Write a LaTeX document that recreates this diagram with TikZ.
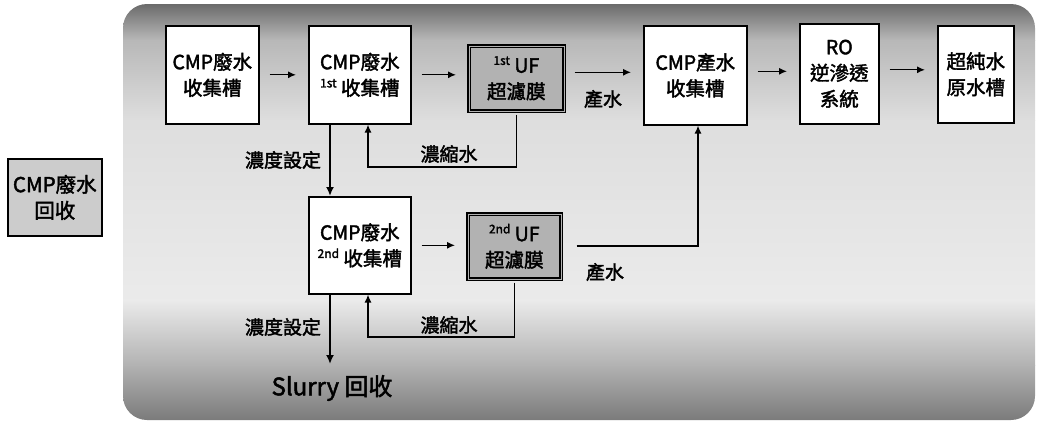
\documentclass[tikz,border=0pt]{standalone}
\usepackage{fontspec}
\setmainfont{Noto Sans CJK TC}[FakeBold=2]
\usetikzlibrary{arrows.meta}
\tikzset{
  box/.style={draw=black, line width=1.6pt, fill=white, inner sep=0pt, align=center, anchor=north west, font=\fontsize{19.5}{26}\selectfont},
  ufbox/.style={box, fill=black!30, double=black!30, double distance=0.6pt},
  lbl/.style={inner sep=0pt, font=\fontsize{19}{22}\selectfont},
  arr/.style={line width=1.3pt, -{Latex[length=8pt,width=7pt]}},
  harr/.style={arr, shorten <=10pt, shorten >=12pt},
  darr/.style={line width=2.6pt, -{Latex[length=9pt,width=8pt]}},
}
\newcommand{\sups}[1]{\raisebox{0.4em}{\fontsize{12}{12}\selectfont #1}}
\begin{document}
\begin{tikzpicture}[x=1pt,y=-1pt]
\useasboundingbox (0,0) rectangle (1040,424);
% panel
\begin{scope}
\clip[rounded corners=24pt] (123,4) rectangle (1035,420);
\shade[top color=black!58, bottom color=black!28] (123,4) rectangle (1035,40);
\shade[top color=black!28, bottom color=black!13] (123,40) rectangle (1035,120);
\shade[top color=black!13, bottom color=black!8] (123,120) rectangle (1035,300);
\shade[top color=black!8, bottom color=black!30] (123,300) rectangle (1035,365);
\shade[top color=black!30, bottom color=black!52] (123,365) rectangle (1035,420.5);
\end{scope}
% left box
\node[box, fill=black!20, minimum width=94pt, minimum height=77pt, font=\fontsize{20.5}{26}\selectfont] (lb) at (7,158) {CMP廢水\\回收};
% top row
\node[box, minimum width=93pt, minimum height=98pt] (b1) at (165,25) {CMP廢水\\收集槽};
\node[box, minimum width=102pt, minimum height=98pt] (b2) at (308,25) {CMP廢水\\\sups{1st} 收集槽};
\node[ufbox, minimum width=95pt, minimum height=65pt] (uf1) at (468,45) {\sups{1st} UF\\超濾膜};
\node[box, minimum width=103pt, minimum height=99pt] (b4) at (643,25) {CMP產水\\收集槽};
\node[box, minimum width=79pt, minimum height=100pt] (ro) at (799,23) {RO\\逆滲透\\系統};
\node[box, minimum width=76pt, minimum height=97pt] (b6) at (937,25) {超純水\\原水槽};
% second row
\node[box, minimum width=102pt, minimum height=97pt] (b7) at (308,196) {CMP廢水\\\sups{2nd} 收集槽};
\node[ufbox, minimum width=93pt, minimum height=65pt] (uf2) at (467,213) {\sups{2nd} UF\\超濾膜};
% labels
\node[lbl] (l1) at (283,160) {濃度設定};
\node[lbl] (l2) at (449,154) {濃縮水};
\node[lbl] (l3) at (603,99) {產水};
\node[lbl] (l4) at (605,272) {產水};
\node[lbl] (l5) at (283,327) {濃度設定};
\node[lbl] (l6) at (449,325) {濃縮水};
\node[inner sep=0pt, font=\fontsize{24}{26}\selectfont] (slurry) at (332,388) {Slurry 回收};
% coordinates
\coordinate (x330) at (330,0);
\coordinate (fb1) at (368,167);
\coordinate (fb2) at (368,337);
\coordinate (up4) at (698,246);
\coordinate (send) at (330,364);
% arrows top row
\draw[harr] (b1) -- (b2);
\draw[harr] (b2.east) -- (b2.east -| uf1.west);
\draw[harr] ([yshift=6pt]uf1.east) -- ([yshift=6pt]uf1.east -| b4.west);
\draw[harr] ([yshift=4pt]b4.east) -- ([yshift=4pt]b4.east -| ro.west);
\draw[harr] ([yshift=4pt]ro.east) -- ([yshift=4pt]ro.east -| b6.west);
% feedback 1
\draw[arr] ([yshift=-3pt]uf1.south) |- (fb1) -- (fb1 |- b2.south);
% down arrows
\draw[darr] (b2.south -| x330) -- (b7.north -| x330);
\draw[darr] (b7.south -| x330) -- (send);
% second row
\draw[harr] (b7.east) -- (b7.east -| uf2.west);
\draw[arr] ([yshift=-3pt]uf2.south) |- (fb2) -- (fb2 |- b7.south);
\draw[arr, shorten <=15pt] (uf2.east |- up4) -- (up4) -- (up4 |- b4.south);
\end{tikzpicture}
\end{document}
